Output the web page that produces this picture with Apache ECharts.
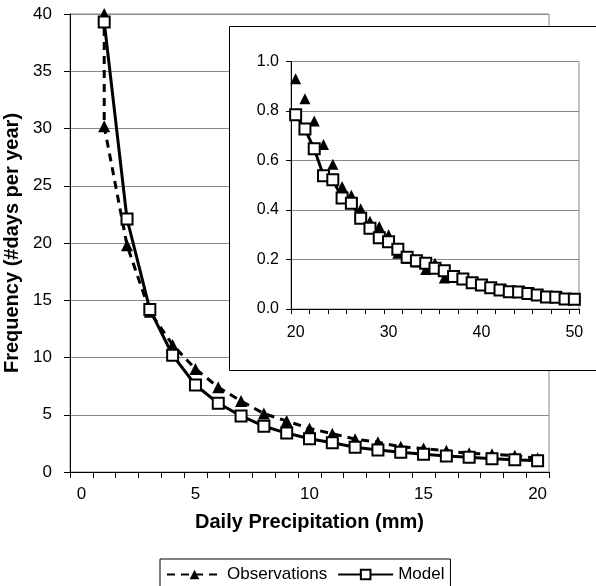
<!DOCTYPE html>
<html>
<head>
<meta charset="utf-8">
<script src="https://cdn.jsdelivr.net/npm/echarts@6/dist/echarts.min.js"></script>
<style>
  html, body { margin: 0; padding: 0; background: #fff; }
  #chart { width: 596px; height: 586px; }
</style>
</head>
<body>
<div id="chart"></div>
<script>
// main chart: daily precipitation 0..20 mm
var mainCats = ['0','1','2','3','4','5','6','7','8','9','10','11','12','13','14','15','16','17','18','19','20'];
var modelMain = [null, 39.3, 22.1, 14.2, 10.2, 7.6, 6.0, 4.9, 4.0, 3.4, 2.9, 2.55, 2.17, 1.92, 1.72, 1.55, 1.40, 1.28, 1.16, 1.08, 0.99];
// observations start with two points at 1 mm (top one clipped at 40)
var obsMainX = [1, 1, 2, 3, 4, 5, 6, 7, 8, 9, 10, 11, 12, 13, 14, 15, 16, 17, 18, 19, 20];
var obsMainY = [40, 30.2, 19.8, 14.0, 11.1, 9.0, 7.4, 6.2, 5.1, 4.45, 3.8, 3.35, 2.87, 2.6, 2.2, 2.05, 1.85, 1.63, 1.55, 1.43, 1.2];

// inset: 20..50 mm
var insetCats = ['20','21','22','23','24','25','26','27','28','29','30','31','32','33','34','35',
  '36','37','38','39','40','41','42','43','44','45','46','47','48','49','50'];
var modelInset = [0.785, 0.727, 0.647, 0.538, 0.522, 0.448, 0.427, 0.367, 0.326, 0.288, 0.272, 0.241, 0.209, 0.195, 0.185, 0.165,
  0.155, 0.131, 0.121, 0.106, 0.097, 0.086, 0.077, 0.070, 0.069, 0.063, 0.057, 0.048, 0.047, 0.040, 0.039];
var obsInset = [0.93, 0.85, 0.76, 0.665, 0.585, 0.495, 0.46, 0.405, 0.355, 0.333, 0.30, 0.225, 0.205, 0.19, 0.16, 0.185, 0.125];

var obsMainData = obsMainX.map(function (x, i) { return [x, obsMainY[i]]; });

var FONT = 'Liberation Sans, Arial, sans-serif';
var gridGray = '#8a8a8a';

var chart = echarts.init(document.getElementById('chart'), null, { renderer: 'canvas' });

var option = {
  backgroundColor: '#fff',
  animation: false,
  textStyle: { fontFamily: FONT, color: '#000' },
  grid: [
    { left: 70, right: 47, top: 14, bottom: 114, show: true, borderColor: gridGray, borderWidth: 1, outerBoundsMode: 'none' },
    { left: 291, right: 17, top: 61.5, bottom: 277, show: true, borderColor: gridGray, borderWidth: 1, z: 6, outerBoundsMode: 'none' }
  ],
  graphic: [{
    type: 'rect',
    z: 5,
    shape: { x: 229.5, y: 26.5, width: 400, height: 344 },
    style: { fill: '#fff', stroke: '#000', lineWidth: 1 }
  }],
  legend: {
    left: 160,
    top: 559,
    data: ['Observations', 'Model'],
    itemWidth: 55,
    itemHeight: 12,
    itemGap: 10,
    padding: [7, 6, 7, 6],
    borderColor: '#000',
    borderWidth: 1,
    textStyle: { fontFamily: FONT, fontSize: 17, color: '#000' }
  },
  xAxis: [{
    gridIndex: 0,
    type: 'category',
    data: mainCats,
    boundaryGap: true,
    name: 'Daily Precipitation (mm)',
    nameLocation: 'middle',
    nameGap: 40,
    nameTextStyle: { fontFamily: FONT, fontSize: 20, fontWeight: 'bold', color: '#000' },
    axisLine: { lineStyle: { color: '#000', width: 1 } },
    axisTick: { show: true, interval: 0, length: 6, lineStyle: { color: '#000', width: 1 } },
    axisLabel: { interval: 4, margin: 14, fontSize: 17, color: '#000', fontFamily: FONT },
    splitLine: { show: false }
  }, {
    gridIndex: 1,
    type: 'category',
    data: insetCats,
    boundaryGap: true,
    z: 6,
    axisLine: { lineStyle: { color: '#000', width: 1 } },
    axisTick: { show: true, interval: 1, length: 5, lineStyle: { color: '#000', width: 1 } },
    axisLabel: { interval: 9, margin: 16, fontSize: 16, color: '#000', fontFamily: FONT },
    splitLine: { show: false }
  }],
  yAxis: [{
    gridIndex: 0,
    type: 'value',
    min: 0,
    max: 40,
    interval: 5,
    name: 'Frequency (#days per year)',
    nameLocation: 'middle',
    nameGap: 46,
    nameTextStyle: { fontFamily: FONT, fontSize: 20, fontWeight: 'bold', color: '#000' },
    axisLine: { show: true, lineStyle: { color: '#000', width: 1 } },
    axisTick: { show: true, length: 6, lineStyle: { color: '#000' } },
    axisLabel: { margin: 18, fontSize: 17, color: '#000', fontFamily: FONT },
    splitLine: { show: true, lineStyle: { color: gridGray, width: 1 } }
  }, {
    gridIndex: 1,
    type: 'value',
    min: 0,
    max: 1,
    interval: 0.2,
    z: 6,
    axisLine: { show: true, lineStyle: { color: '#000', width: 1 } },
    axisTick: { show: true, length: 5, lineStyle: { color: '#000' } },
    axisLabel: {
      margin: 12, fontSize: 16, color: '#000', fontFamily: FONT,
      formatter: function (v) { return v.toFixed(1); }
    },
    splitLine: { show: true, lineStyle: { color: gridGray, width: 1 } }
  }],
  series: [{
    name: 'Observations',
    type: 'line',
    xAxisIndex: 0,
    yAxisIndex: 0,
    data: obsMainData,
    symbol: 'triangle',
    symbolSize: 12,
    showAllSymbol: true,
    itemStyle: { color: '#000' },
    lineStyle: { color: '#000', width: 3, type: [8, 6] },
    z: 2
  }, {
    name: 'Model',
    type: 'line',
    xAxisIndex: 0,
    yAxisIndex: 0,
    data: modelMain,
    symbol: 'rect',
    symbolSize: 11,
    showAllSymbol: true,
    itemStyle: { color: '#fff', borderColor: '#000', borderWidth: 2 },
    lineStyle: { color: '#000', width: 3 },
    z: 3
  }, {
    name: 'Observations (inset)',
    type: 'line',
    xAxisIndex: 1,
    yAxisIndex: 1,
    data: obsInset,
    symbol: 'triangle',
    symbolSize: 11,
    showAllSymbol: true,
    itemStyle: { color: '#000' },
    lineStyle: { width: 0, opacity: 0 },
    z: 7
  }, {
    name: 'Model (inset)',
    type: 'line',
    xAxisIndex: 1,
    yAxisIndex: 1,
    data: modelInset,
    symbol: 'rect',
    symbolSize: 11,
    showAllSymbol: true,
    itemStyle: { color: '#fff', borderColor: '#000', borderWidth: 2 },
    lineStyle: { color: '#000', width: 3 },
    z: 8
  }]
};

chart.setOption(option);
</script>
</body>
</html>
